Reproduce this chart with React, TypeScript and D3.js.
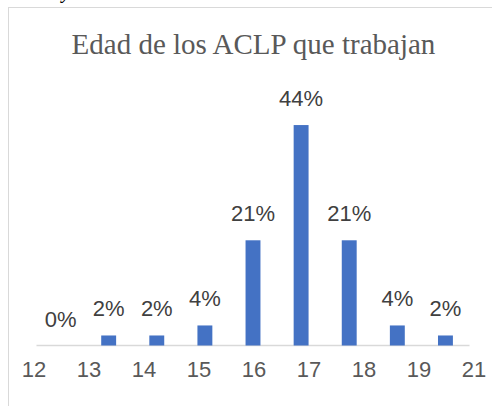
import React from "react";
import * as d3 from "d3";

const title = "Edad de los ACLP que trabajan";
const bins = ["12-13", "13-14", "14-15", "15-16", "16-17", "17-18", "18-19", "19-20", "20-21"];
const percents = [0, 2, 2, 4, 21, 44, 21, 4, 2];
const tickLabels = ["12", "13", "14", "15", "16", "17", "18", "19", "21"];

const W = 492;
const H = 406;

export default function App() {
  const x = d3.scaleBand<string>().domain(bins).range([36.5, 469.5]).paddingInner(0.69).paddingOuter(0.345);
  const y = d3.scaleLinear().domain([0, 50]).range([345.5, 95]);
  const tx = d3.scalePoint<string>().domain(tickLabels).range([34, 474]);
  const sans = "'Liberation Sans', Arial, sans-serif";
  return (
    <svg width={W} height={H} style={{ position: "absolute", left: 0, top: 0, background: "#fff" }}>
      <rect x={0} y={0} width={W} height={H} fill="#fff" />
      <text x={62} y={-1} fontFamily="'Liberation Serif', 'Times New Roman', serif" fontStyle="italic" fontWeight="bold" fontSize={18} fill="#000">y</text>
      <rect x={8.5} y={7.5} width={491} height={420} fill="#fff" stroke="#d9d9d9" strokeWidth={1} />
      <text x={253.5} y={54} textAnchor="middle" fontFamily="'Liberation Serif', 'Times New Roman', serif" fontSize={29} fill="#595959">{title}</text>
      <line x1={x.range()[0]} x2={x.range()[1]} y1={y(0)} y2={y(0)} stroke="#d9d9d9" strokeWidth={1.5} />
      {bins.map((b, i) => (
        <rect key={b} x={x(b)} y={y(percents[i])} width={x.bandwidth()} height={y(0) - y(percents[i])} fill="#4472c4" />
      ))}
      {bins.map((b, i) => (
        <text key={"l" + b} x={(x(b) as number) + x.bandwidth() / 2} y={y(percents[i]) - 19} textAnchor="middle" fontFamily={sans} fontSize={22} fill="#404040">{`${percents[i]}%`}</text>
      ))}
      {tickLabels.map((t) => (
        <text key={"t" + t} x={tx(t)} y={377} textAnchor="middle" fontFamily={sans} fontSize={22} fill="#595959">{t}</text>
      ))}
    </svg>
  );
}
